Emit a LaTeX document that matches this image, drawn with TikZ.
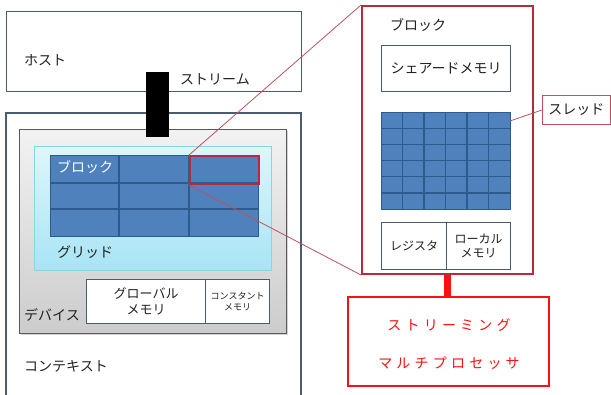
\documentclass[tikz,border=0pt]{standalone}
\usepackage{fontspec}
\newfontfamily\jp{Noto Sans CJK JP}
\newfontfamily\jpsp{Noto Sans CJK JP}[LetterSpace=30]
\usetikzlibrary{shadows}
\definecolor{edgecol}{HTML}{4A5D6E}
\definecolor{cellblue}{HTML}{4F81BD}
\definecolor{celledge}{HTML}{2D5B8E}
\definecolor{cyantop}{HTML}{DDF6FC}
\definecolor{cyanbot}{HTML}{A8E4F4}
\definecolor{cyanedge}{HTML}{8ED2E6}
\definecolor{blockred}{HTML}{B8293C}
\definecolor{pinkline}{HTML}{C0505A}
\definecolor{smred}{HTML}{FF1010}
\definecolor{txt}{HTML}{222222}
\begin{document}
\begin{tikzpicture}[x=1pt,y=-1pt,
  box/.style={draw=edgecol, line width=1.3pt, fill=white, anchor=north west, inner sep=0pt},
  lbl/.style={font=\jp\fontsize{14}{16}\selectfont, text=txt, inner sep=0pt},
  small/.style={font=\jp\fontsize{12}{14}\selectfont, text=txt, inner sep=0pt, align=center},
  tiny/.style={font=\jp\fontsize{9}{11}\selectfont, text=txt, inner sep=0pt, align=center},
  gridline/.style={draw=celledge, line width=1.3pt},
  pink/.style={draw=pinkline, line width=0.8pt},
  smtext/.style={font=\jpsp\fontsize{14}{16}\selectfont, text=smred, inner sep=0pt}]
\useasboundingbox (0,0) rectangle (611,394);

% host
\node[box, minimum width=295pt, minimum height=80pt] (host) at (6,11) {};
\node[lbl, anchor=west] (hostlbl) at (24,60) {ホスト};

% context (open at the bottom)
\coordinate (ctxbl) at (6,400);
\coordinate (ctxtr) at (301,113);
\coordinate (ctxbr) at (301,400);
\draw[draw=edgecol, line width=1.3pt] (ctxbl) |- (ctxtr) -- (ctxbr);
\node[lbl, anchor=west] (ctxlbl) at (24,366) {コンテキスト};

% device
\node[box, draw=black!65, top color=black!5, bottom color=black!20,
      drop shadow={shadow xshift=1.5pt, shadow yshift=-1.5pt, opacity=0.35},
      minimum width=267pt, minimum height=204pt] (device) at (19,129) {};
\node[lbl, anchor=west] (devlbl) at (24,315) {デバイス};

% grid background
\node[box, draw=cyanedge, top color=cyantop, bottom color=cyanbot,
      minimum width=237pt, minimum height=124pt] (gridbg) at (34,146) {};
\node[lbl, anchor=west] (gridlbl) at (57,252) {グリッド};

% blue grid of blocks
\node[box, draw=celledge, fill=cellblue, minimum width=208pt, minimum height=81pt] (blocks) at (50,155) {};
\draw[gridline] (119,155) -- (119,236);
\draw[gridline] (189,155) -- (189,236);
\draw[gridline] (50,183) -- (258,183);
\draw[gridline] (50,209) -- (258,209);
\node[lbl, text=white, anchor=west] (blocklbl) at (57,167) {ブロック};
\node[box, fill=none, draw=blockred, line width=2pt, minimum width=69pt, minimum height=28pt] (hl) at (189,155) {};

% memories
\node[box, minimum width=119pt, minimum height=44pt] (gmem) at (86,279) {};
\node[small, font=\jp\fontsize{13}{16}\selectfont] (gmemlbl) at (gmem.center) {グローバル\\メモリ};
\node[box, minimum width=64pt, minimum height=44pt] (cmem) at (205,279) {};
\node[tiny] (cmemlbl) at (cmem.center) {コンスタント\\メモリ};

% stream bar
\node[fill=black, anchor=north west, inner sep=0pt, minimum width=23pt, minimum height=65pt] (stream) at (146,72) {};
\node[lbl, anchor=west] (streamlbl) at (180,79) {ストリーム};

% zoomed block
\node[box, draw=blockred, line width=2pt, drop shadow={shadow xshift=1pt, shadow yshift=-1pt, opacity=0.25},
      minimum width=171pt, minimum height=268pt] (block) at (361,5) {};
\node[lbl, anchor=west] (blk2lbl) at (390,25) {ブロック};
\node[box, minimum width=129pt, minimum height=46pt] (shared) at (381,45) {};
\node[lbl] (sharedlbl) at (shared.center) {シェアードメモリ};

\node[box, draw=celledge, fill=cellblue, minimum width=129pt, minimum height=97pt] (threads) at (381,112) {};
\foreach \i in {1,...,5} {
  \draw[gridline] ({381+\i*21.5},112) -- ({381+\i*21.5},209);
  \draw[gridline] (381,{112+\i*16.17}) -- (510,{112+\i*16.17});
}

\node[box, minimum width=65pt, minimum height=47pt] (reg) at (381,222) {};
\node[small] (reglbl) at (reg.center) {レジスタ};
\node[box, minimum width=64pt, minimum height=47pt] (lmem) at (446,222) {};
\node[small] (lmemlbl) at (lmem.center) {ローカル\\メモリ};

% thread label
\node[box, draw=pinkline, line width=0.9pt, minimum width=68pt, minimum height=29pt] (thr) at (542,95) {};
\node[lbl] (thrlbl) at (thr.center) {スレッド};
\coordinate (thrpt) at (510,121);
\draw[pink] (thrpt) -- (thr.west);

% zoom lines
\draw[pink] (hl.north west) -- (block.north west);
\draw[pink] (hl.south west) -- (block.south west);

% streaming multiprocessor
\node[box, draw=smred, line width=1.8pt, minimum width=201pt, minimum height=89pt] (sm) at (347,296) {};
\draw[draw=smred, line width=7pt] (block.south) -- (block.south |- sm.north);
\node[smtext] (sm1) at (449,325) {ストリーミング};
\node[smtext] (sm2) at (449,363) {マルチプロセッサ};
\end{tikzpicture}
\end{document}
